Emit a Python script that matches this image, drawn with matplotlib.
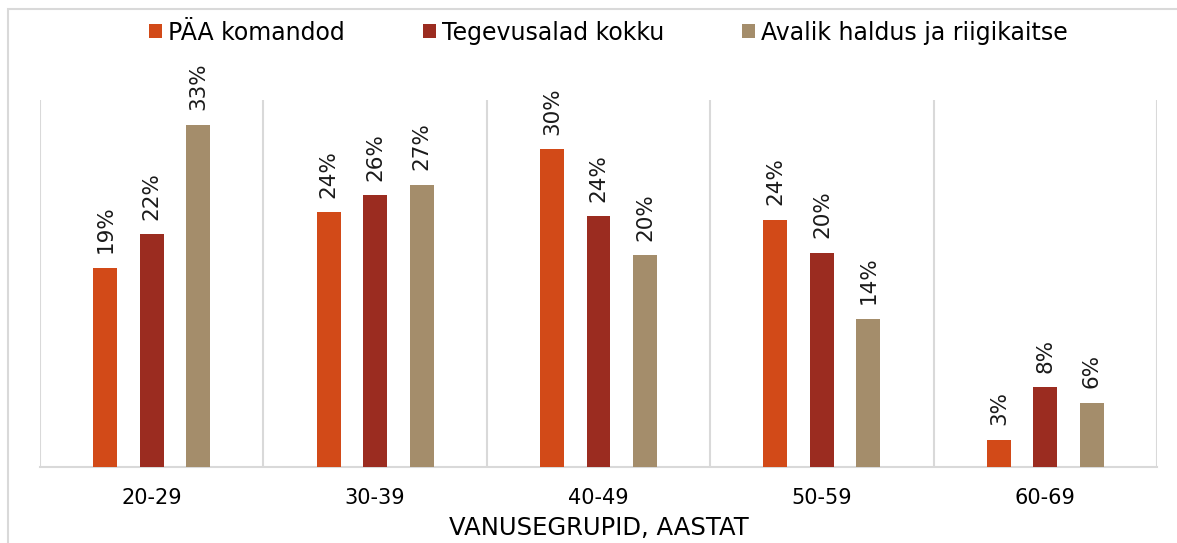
import numpy as np
import matplotlib
matplotlib.use('Agg')
import matplotlib.pyplot as plt
from matplotlib.patches import Rectangle

# 数据
categories = ['20-29', '30-39', '40-49', '50-59', '60-69']
series_names = ['PÄA komandod', 'Tegevusalad kokku', 'Avalik haldus ja riigikaitse']
paa = [19.0, 24.3, 30.3, 23.6, 2.6]
tegevus = [22.2, 25.9, 23.9, 20.4, 7.6]
avalik = [32.6, 26.9, 20.2, 14.1, 6.1]
colors = ['#D24A18', '#9B2C20', '#A48D6B']
x_label = 'VANUSEGRUPID, AASTAT'

plt.rcParams['font.family'] = ['DejaVu Sans']

fig = plt.figure(figsize=(11.77, 5.43), dpi=100)
ax = fig.add_axes([40 / 1177, 76 / 543, 1117 / 1177, 367 / 543])

x = np.arange(len(categories))
offsets = [-0.208, 0.0, 0.208]
width = 0.107
bars = []
for vals, off, col, name in zip([paa, tegevus, avalik], offsets, colors, series_names):
    b = ax.bar(x + off, vals, width, color=col, label=name, edgecolor='none', zorder=3)
    bars.append(b)
    for xi, v in zip(x + off, vals):
        ax.text(xi, v + 1.4, '%d%%' % round(v), rotation=90, ha='center', va='bottom',
                fontsize=15.5, color='#1a1a1a')

ax.set_xlim(-0.5, len(categories) - 0.5)
ax.set_ylim(0, 35)
# 类别分隔线
for b in np.arange(-0.5, len(categories), 1.0):
    ax.axvline(b, color='#d9d9d9', lw=1.5, zorder=1)
ax.set_yticks([])
ax.set_xticks(x)
ax.set_xticklabels(categories, fontsize=15)
ax.tick_params(axis='x', length=0, pad=15)
for s in ['top', 'right', 'left']:
    ax.spines[s].set_visible(False)
ax.spines['bottom'].set_color('#d9d9d9')
ax.spines['bottom'].set_linewidth(1.5)
ax.set_xlabel(x_label, fontsize=17.5, labelpad=6)

leg = fig.legend(handles=bars, labels=series_names, loc='center', bbox_to_anchor=(0.517, 0.94),
                 ncol=3, frameon=False, handlelength=0.55, handleheight=0.55,
                 handletextpad=0.25, columnspacing=3.3,
                 prop={'family': ['Liberation Sans Narrow', 'DejaVu Sans'], 'size': 17})

# 外框
fig.patches.append(Rectangle((8 / 1177, -0.1), 1.2, 1.1 - 9 / 543, transform=fig.transFigure,
                             fill=False, edgecolor='#d9d9d9', lw=1.5))

fig.savefig('out.png', dpi=100)
